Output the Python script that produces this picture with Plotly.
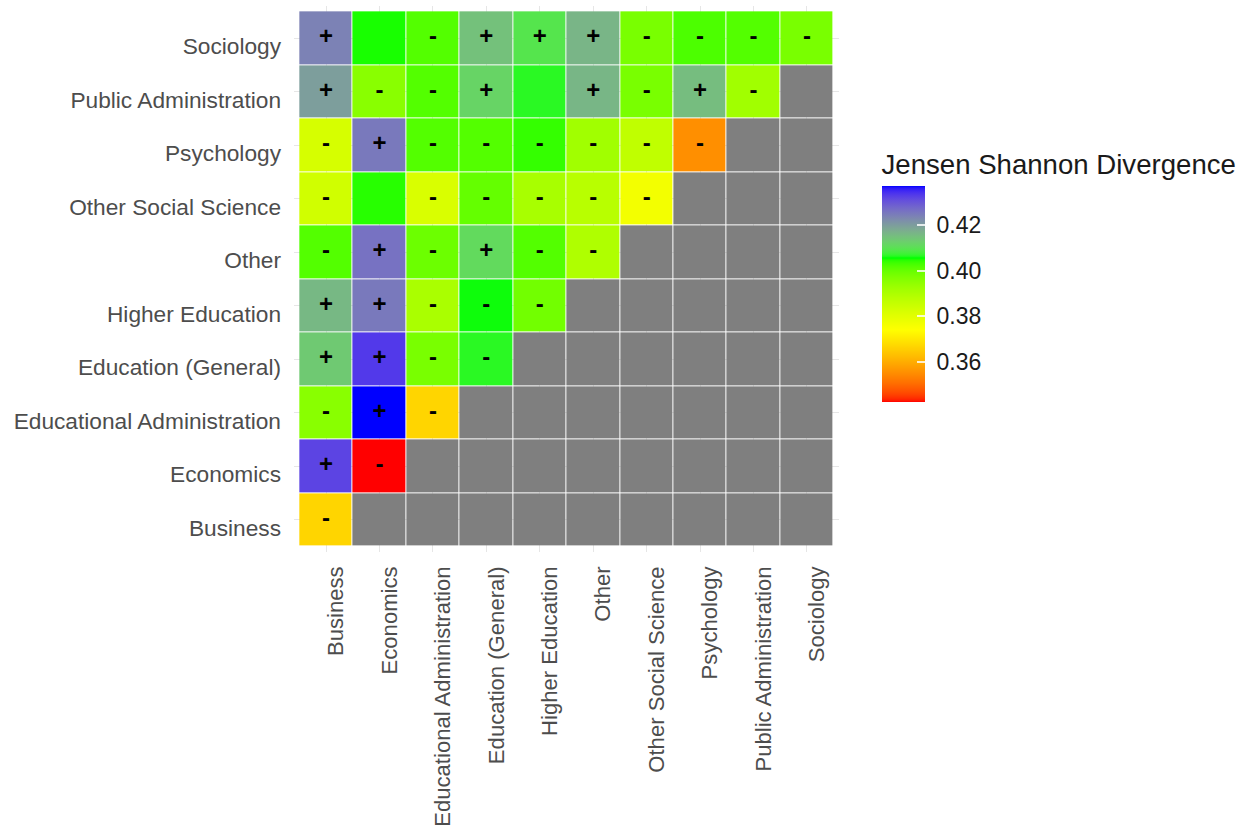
import plotly.graph_objects as go

# Fields compared pairwise (same order on both axes, bottom-to-top / left-to-right)
fields = ["Business", "Economics", "Educational Administration", "Education (General)",
          "Higher Education", "Other", "Other Social Science", "Psychology",
          "Public Administration", "Sociology"]

# Jensen-Shannon divergence, lower triangle: row i holds columns 0..i
jsd_business = [0.3667]
jsd_economics = [0.4320, 0.3424]
jsd_edadmin = [0.3955, 0.4371, 0.3667]
jsd_edgeneral = [0.4134, 0.4333, 0.3977, 0.4064]
jsd_highered = [0.4159, 0.4251, 0.3904, 0.4058, 0.3986]
jsd_other = [0.4018, 0.4260, 0.3993, 0.4109, 0.4018, 0.3895]
jsd_oss = [0.3835, 0.4046, 0.3819, 0.4002, 0.3907, 0.3879, 0.3765]
jsd_psychology = [0.3825, 0.4251, 0.4018, 0.4018, 0.4040, 0.3920, 0.3866, 0.3553]
jsd_pubadmin = [0.4197, 0.3955, 0.4018, 0.4118, 0.4064, 0.4162, 0.3978, 0.4153, 0.3920]
jsd_sociology = [0.4238, 0.4050, 0.4018, 0.4147, 0.4093, 0.4165, 0.3978, 0.4024, 0.4018, 0.3978]

# Direction of the difference shown in each cell ("" = not marked)
sign_business = ["-"]
sign_economics = ["+", "-"]
sign_edadmin = ["-", "+", "-"]
sign_edgeneral = ["+", "+", "-", "-"]
sign_highered = ["+", "+", "-", "-", "-"]
sign_other = ["-", "+", "-", "+", "-", "-"]
sign_oss = ["-", "", "-", "-", "-", "-", "-"]
sign_psychology = ["-", "+", "-", "-", "-", "-", "-", "-"]
sign_pubadmin = ["+", "-", "-", "+", "", "+", "-", "+", "-"]
sign_sociology = ["+", "", "-", "+", "+", "+", "-", "-", "-", "-"]

colorbar_ticks = [0.36, 0.38, 0.40, 0.42]

jsd_rows = [jsd_business, jsd_economics, jsd_edadmin, jsd_edgeneral, jsd_highered,
            jsd_other, jsd_oss, jsd_psychology, jsd_pubadmin, jsd_sociology]
sign_rows = [sign_business, sign_economics, sign_edadmin, sign_edgeneral, sign_highered,
             sign_other, sign_oss, sign_psychology, sign_pubadmin, sign_sociology]

n = len(fields)
z = [[row[j] if j < len(row) else None for j in range(n)] for row in jsd_rows]
z_missing = [[None if j < len(row) else 1 for j in range(n)] for row in jsd_rows]


# --- gradient red -> yellow -> green -> blue, interpolated in CIELAB ---
def _lin(c):
    return c / 12.92 if c <= 0.04045 else ((c + 0.055) / 1.055) ** 2.4


def _gam(c):
    c = min(max(c, 0.0), 1.0)
    return 12.92 * c if c <= 0.0031308 else 1.055 * c ** (1 / 2.4) - 0.055


WHITE = (0.95047, 1.0, 1.08883)


def hex_to_lab(h):
    r, g, b = (_lin(int(h[k:k + 2], 16) / 255) for k in (1, 3, 5))
    x = 0.4124 * r + 0.3576 * g + 0.1805 * b
    y = 0.2126 * r + 0.7152 * g + 0.0722 * b
    zz = 0.0193 * r + 0.1192 * g + 0.9505 * b

    def f(t):
        return t ** (1 / 3) if t > 0.008856 else 7.787 * t + 16 / 116

    fx, fy, fz = f(x / WHITE[0]), f(y / WHITE[1]), f(zz / WHITE[2])
    return (116 * fy - 16, 500 * (fx - fy), 200 * (fy - fz))


def lab_to_rgb(lab):
    L, a, b = lab
    fy = (L + 16) / 116
    fx = fy + a / 500
    fz = fy - b / 200

    def finv(t):
        return t ** 3 if t ** 3 > 0.008856 else (t - 16 / 116) / 7.787

    x, y, zz = WHITE[0] * finv(fx), WHITE[1] * finv(fy), WHITE[2] * finv(fz)
    r = 3.2406 * x - 1.5372 * y - 0.4986 * zz
    g = -0.9689 * x + 1.8758 * y + 0.0415 * zz
    bl = 0.0557 * x - 0.2040 * y + 1.0570 * zz
    return "rgb(%d,%d,%d)" % tuple(round(255 * _gam(c)) for c in (r, g, bl))


anchors = ["#FF0000", "#FFFF00", "#00FF00", "#0000FF"]
labs = [hex_to_lab(h) for h in anchors]
steps = 120
colorscale = []
for k in range(steps + 1):
    p = k / steps
    seg = min(int(p * (len(labs) - 1)), len(labs) - 2)
    t = p * (len(labs) - 1) - seg
    lab = tuple(labs[seg][m] + t * (labs[seg + 1][m] - labs[seg][m]) for m in range(3))
    colorscale.append([p, lab_to_rgb(lab)])

all_vals = [v for row in jsd_rows for v in row]
zmin, zmax = min(all_vals), max(all_vals)

font_family = "Liberation Sans, Arial, sans-serif"

fig = go.Figure()

# missing pairs (upper triangle) drawn as plain grey tiles
fig.add_trace(go.Heatmap(
    x=fields, y=fields, z=z_missing,
    colorscale=[[0, "#7F7F7F"], [1, "#7F7F7F"]],
    showscale=False, xgap=1, ygap=1, hoverinfo="skip",
))

fig.add_trace(go.Heatmap(
    x=fields, y=fields, z=z,
    colorscale=colorscale, zmin=zmin, zmax=zmax,
    xgap=1, ygap=1,
    colorbar=dict(
        title=dict(text="Jensen Shannon Divergence", side="top",
                   font=dict(size=27.6, color="#1A1A1A", family=font_family)),
        thickness=43, thicknessmode="pixels",
        len=252, lenmode="pixels",
        x=1.078, xanchor="left", y=0.5055, yanchor="middle",
        xpad=0, ypad=0, outlinewidth=0,
        tickvals=colorbar_ticks,
        ticktext=["\u00a0%.2f" % v for v in colorbar_ticks],
        ticks="inside", ticklen=8, tickwidth=1.5, tickcolor="rgba(255,255,255,0.8)",
        tickfont=dict(size=23, color="#1A1A1A", family=font_family),
    ),
))

# +/- markers
sx, sy, st = [], [], []
for i, row in enumerate(sign_rows):
    for j, s in enumerate(row):
        if s:
            sx.append(fields[j])
            sy.append(fields[i])
            st.append(s)
fig.add_trace(go.Scatter(
    x=sx, y=sy, text=st, mode="text",
    textfont=dict(size=24, color="black", family=font_family, weight="bold"),
    hoverinfo="skip", showlegend=False,
))

axis_common = dict(
    type="category", categoryorder="array", categoryarray=fields,
    range=[-0.6, n - 0.4], showgrid=True, gridcolor="#E6E6E6", gridwidth=1,
    zeroline=False, showline=False, ticks="",
)

fig.update_layout(
    width=1238, height=830,
    margin=dict(l=294, r=399, t=6, b=278, autoexpand=False),
    paper_bgcolor="white", plot_bgcolor="white",
    xaxis=dict(axis_common, tickangle=-90, ticklabelstandoff=9, ticklabelshift=10,
               tickfont=dict(size=22.1, color="#4D4D4D", family=font_family)),
    yaxis=dict(axis_common, ticklabelstandoff=12, ticklabelshift=8,
               tickfont=dict(size=22.7, color="#4D4D4D", family=font_family)),
    showlegend=False,
)

fig.write_html("out.html")
